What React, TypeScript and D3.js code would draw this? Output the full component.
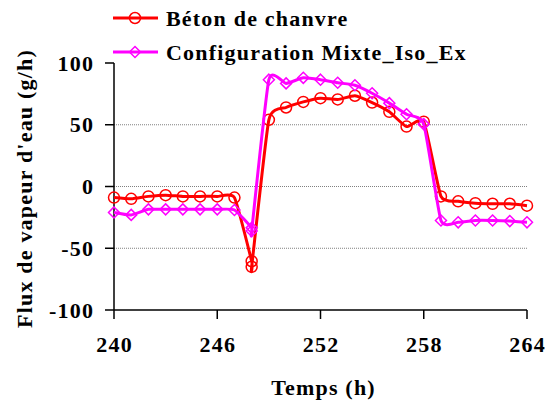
import React from "react";
import * as d3 from "d3";

const times = [240, 241, 242, 243, 244, 245, 246, 247, 248, 248, 249, 250, 251, 252, 253, 254, 255, 256, 257, 258, 259, 260, 261, 262, 263, 264];
const betonValues = [-9, -10, -8, -7, -8, -8, -8, -9, -60.5, -65, 54, 64, 68.5, 71.5, 70.5, 73.5, 68, 60.5, 48.5, 52.5, -8, -12, -13.5, -14, -14, -15.5];
const mixteValues = [-21, -23, -18.5, -18.5, -18.5, -18.5, -18.5, -19, -33.5, -36, 86.5, 83.5, 88, 86.5, 84, 82, 75.5, 67.5, 58.5, 50.5, -27.5, -29, -27.5, -27.5, -28, -29];
const xTicks = [240, 246, 252, 258, 264];
const yTicks = [-100, -50, 0, 50, 100];
const gridTicks = [-50, 0, 50];
const seriesNames = ["Béton de chanvre", "Configuration Mixte_Iso_Ex"];

const W = 548, H = 401;
const FONT = "'Liberation Serif', 'Times New Roman', serif";
const LS = 1.2;

export default function App() {
  const x = d3.scaleLinear().domain([240, 264]).range([114, 527]);
  const y = d3.scaleLinear().domain([-100, 100]).range([310, 63]);
  const line = d3
    .line<number>()
    .x((_, i) => x(times[i]))
    .y((d) => y(d))
    .curve(d3.curveCardinal.tension(0.5));

  const diamond = (cx: number, cy: number, r: number) =>
    `M${cx},${cy - r}L${cx + r},${cy}L${cx},${cy + r}L${cx - r},${cy}Z`;

  const red = "#FF0000";
  const mag = "#FF00FF";
  const txt = { fontSize: 22, fontWeight: "bold" as const, letterSpacing: LS };

  return (
    <svg width={W} height={H} style={{ position: "absolute", left: 0, top: 0, background: "#fff" }} fontFamily={FONT}>
      <rect x={0} y={0} width={W} height={H} fill="#fff" />
      {gridTicks.map((t) => (
        <line key={t} x1={x(240)} x2={x(264)} y1={y(t)} y2={y(t)} stroke="#808080" strokeWidth={1} strokeDasharray="1,1" />
      ))}
      {/* axes */}
      <line x1={x(240)} x2={x(240)} y1={y(100)} y2={y(-100)} stroke="#000" strokeWidth={1.5} />
      <line x1={x(240)} x2={x(264)} y1={y(-100)} y2={y(-100)} stroke="#000" strokeWidth={1.5} />
      {yTicks.map((t) => (
        <g key={t}>
          <line x1={x(240) - 9} x2={x(240)} y1={y(t)} y2={y(t)} stroke="#000" strokeWidth={1.5} />
          <text x={93 + LS} y={y(t)} dy="0.35em" textAnchor="end" {...txt}>{t}</text>
        </g>
      ))}
      {xTicks.map((t) => (
        <g key={t}>
          <line x1={x(t)} x2={x(t)} y1={y(-100)} y2={y(-100) + 9} stroke="#000" strokeWidth={1.5} />
          <text x={x(t) + LS / 2} y={352} textAnchor="middle" {...txt}>{t}</text>
        </g>
      ))}
      <text x={x(252) + 3} y={395} textAnchor="middle" {...txt}>Temps (h)</text>
      <text transform={`translate(32,${y(0) + 2}) rotate(-90)`} textAnchor="middle" {...txt}>
        Flux de vapeur d'eau (g/h)
      </text>

      {/* series */}
      <path d={line(betonValues) || ""} fill="none" stroke={red} strokeWidth={3} />
      {betonValues.map((v, i) => (
        <circle key={"b" + i} cx={x(times[i])} cy={y(v)} r={5.5} fill="none" stroke={red} strokeWidth={1.5} />
      ))}
      <path d={line(mixteValues) || ""} fill="none" stroke={mag} strokeWidth={3} />
      {mixteValues.map((v, i) => (
        <path key={"m" + i} d={diamond(x(times[i]), y(v), 5.5)} fill="none" stroke={mag} strokeWidth={1.5} />
      ))}

      {/* legend */}
      <line x1={113} x2={158} y1={18} y2={18} stroke={red} strokeWidth={3} />
      <circle cx={135} cy={18} r={5.5} fill="none" stroke={red} strokeWidth={1.5} />
      <text x={166} y={18} dy="0.35em" {...txt}>{seriesNames[0]}</text>
      <line x1={113} x2={158} y1={52} y2={52} stroke={mag} strokeWidth={3} />
      <path d={diamond(135, 52, 5.5)} fill="none" stroke={mag} strokeWidth={1.5} />
      <text x={166} y={52} dy="0.35em" {...txt}>{seriesNames[1]}</text>
    </svg>
  );
}
